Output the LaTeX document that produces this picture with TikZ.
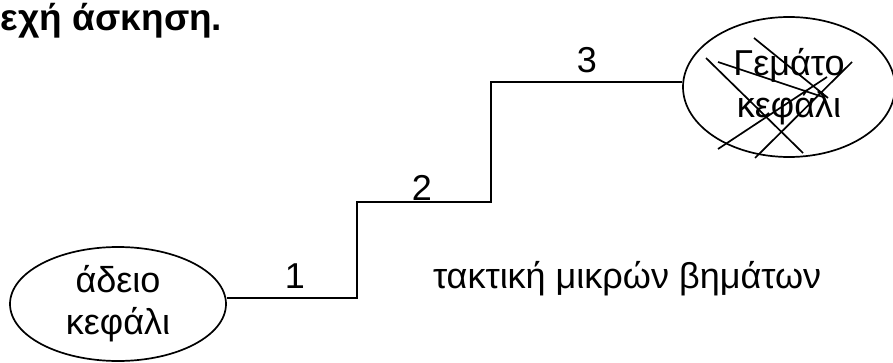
\documentclass[tikz,border=0pt]{standalone}
\usepackage{fontspec}
\setmainfont{Liberation Sans}
\usetikzlibrary{shapes.geometric}

\begin{document}
\begin{tikzpicture}[x=1pt, y=-1pt, line width=2pt,
    txt/.style={font=\fontsize{36}{42}\selectfont, inner sep=0pt},
    head/.style={ellipse, draw, line width=1.7pt, inner sep=0pt, align=center,
      font=\fontsize{36}{42}\selectfont}]
  \useasboundingbox (0, 0) rectangle (893, 363);

  % Title (cut at the left)
  \node[txt, anchor=base west, font=\fontsize{37}{42}\bfseries] (title) at (0, 31) {εχή άσκηση.};

  % Heads
  \node[head, minimum width=216, minimum height=114] (empty) at (118, 304) {άδειο\\κεφάλι};
  \node[head, minimum width=212, minimum height=140] (full) at (789, 87) {Γεμάτο\\κεφάλι};

  % Steps
  \coordinate (s1) at (357, 298);
  \coordinate (s2) at (357, 202);
  \coordinate (s3) at (491, 202);
  \coordinate (s4) at (491, 82);
  \draw (empty.east |- s1) -- (s1) -- (s2) -- (s3) -- (s4) -- (full.west |- s4);
  \node[txt, anchor=base] (n1) at (295, 288) {1};
  \node[txt, anchor=base] (n2) at (422, 201) {2};
  \node[txt, anchor=base] (n3) at (587, 73) {3};
  \node[txt, anchor=base west] (tactic) at (432, 288) {τακτική μικρών βημάτων};

  % Crossing out
  \foreach \xa/\ya/\xb/\yb in {706/58/803/153, 718/62/823/97, 754/38/828/98,
                               718/149/827/77, 755/158/852/62} {
    \draw[line width=1.7pt] (\xa, \ya) -- (\xb, \yb);
  }
\end{tikzpicture}
\end{document}
